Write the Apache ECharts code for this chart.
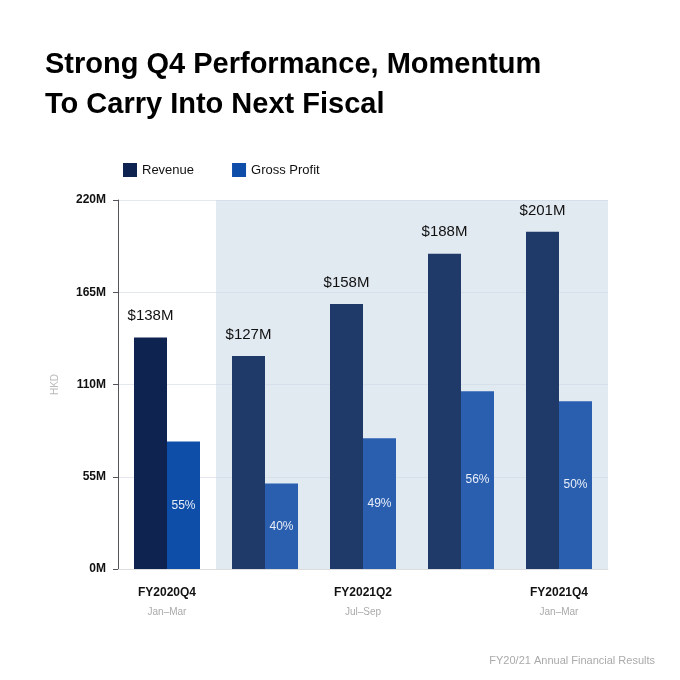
<!DOCTYPE html><html><head><meta charset="utf-8"><script src="https://cdn.jsdelivr.net/npm/echarts@6/dist/echarts.min.js"></script>
<style>body{margin:0;background:#fff}#c{width:680px;height:680px}</style></head><body><div id="c"></div><script>
const categories=['FY2020Q4','FY2021Q1','FY2021Q2','FY2021Q3','FY2021Q4'];
const periods=['Jan–Mar','Apr–Jun','Jul–Sep','Oct–Dec','Jan–Mar'];
const revenue=[138,127,158,188,201];
const grossProfit=[76,51,78,106,100];
const margins=['55%','40%','49%','56%','50%'];
const yTicks=[0,55,110,165,220];
const F='Helvetica Neue, Arial, Liberation Sans, sans-serif';
const c=echarts.init(document.getElementById('c'));
c.setOption({
 animation:false,
 title:[{text:'Strong Q4 Performance, Momentum\nTo Carry Into Next Fiscal',left:40,top:40,textStyle:{fontFamily:F,fontSize:29,fontWeight:'bold',color:'#000',lineHeight:40}},
  {text:'FY20/21 Annual Financial Results',right:20,top:650,textStyle:{fontFamily:F,fontSize:11,fontWeight:'normal',color:'#aaa'}}],
 legend:{left:118,top:158,itemWidth:14,itemHeight:14,itemGap:38,icon:'rect',textStyle:{fontFamily:F,fontSize:13,color:'#111'},data:['Revenue','Gross Profit']},
 grid:{left:118,right:72,top:200,bottom:111},
 xAxis:[{type:'category',data:categories,axisTick:{show:false},axisLine:{lineStyle:{color:'#ddd'}},
   axisLabel:{margin:14,fontFamily:F,formatter:(v,i)=>'{a|'+v+'}\n{b|'+periods[i]+'}',rich:{a:{fontSize:12,fontWeight:'bold',color:'#111',lineHeight:20},b:{fontSize:10,color:'#aaa',lineHeight:18}}}},
  {type:'value',min:0,max:5,show:false}],
 yAxis:{type:'value',min:0,max:220,interval:55,name:'HKD',nameLocation:'middle',nameGap:58,nameTextStyle:{color:'#bbb',fontSize:10,fontFamily:F},
  axisLabel:{formatter:v=>v+'M',fontFamily:F,fontSize:12,fontWeight:'bold',color:'#111',margin:12},splitLine:{lineStyle:{color:'#e4e8ee'}}},
 series:[
  {type:'line',xAxisIndex:1,data:[],silent:true,markArea:{silent:true,itemStyle:{color:'rgba(205,218,232,0.6)'},data:[[{xAxis:1},{xAxis:5}]]}},
  {name:'Revenue',type:'bar',barWidth:33,barGap:'0%',itemStyle:{color:'#0e2350'},
   data:revenue.map((v,i)=>({value:v,itemStyle:{color:i===0?'#0e2350':'#1f3a68'}})),
   label:{show:true,position:'top',distance:14,formatter:p=>'$'+p.value+'M',fontFamily:F,fontSize:15,color:'#111'}},
  {name:'Gross Profit',type:'bar',barWidth:33,itemStyle:{color:'#0f4ea8'},
   data:grossProfit.map((v,i)=>({value:v,itemStyle:{color:i===0?'#0f4ea8':'#2a5fb0'}})),
   label:{show:true,position:'inside',formatter:p=>margins[p.dataIndex],fontFamily:F,fontSize:12,color:'#e8eef8'}}
 ]});
</script></body></html>
